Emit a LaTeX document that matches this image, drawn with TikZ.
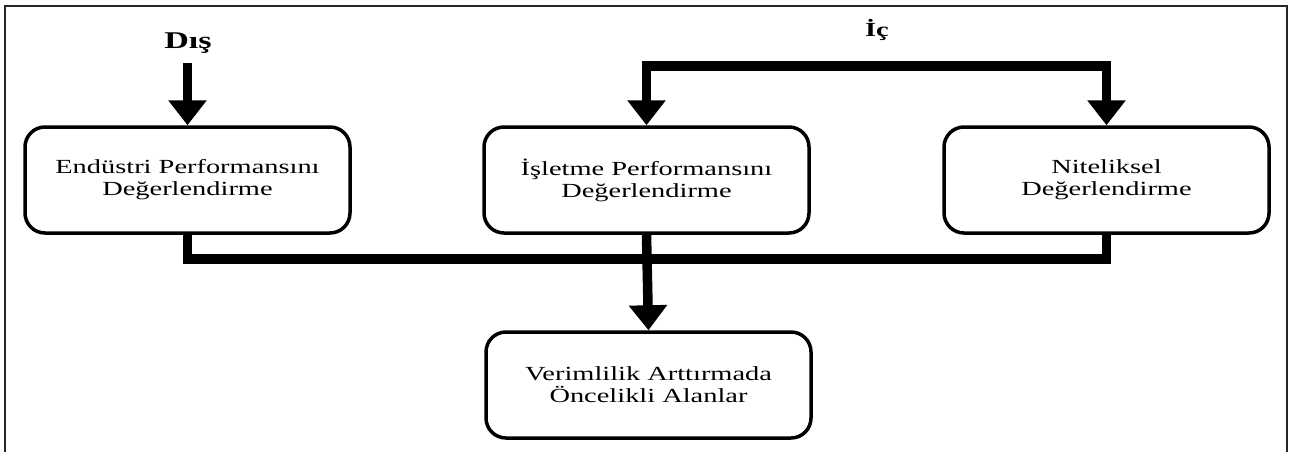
\documentclass[tikz,border=0pt]{standalone}
\usepackage{fontspec}
\setmainfont{Liberation Serif}[FakeStretch=1.42]
\usetikzlibrary{arrows.meta}
\tikzset{
  box/.style={draw, line width=3.5pt, rounded corners=20pt, minimum width=325pt, minimum height=106pt, align=center, font=\fontsize{20}{22}\selectfont, inner sep=0pt, execute at begin node={\rule{0pt}{22pt}}},
  conn/.style={line width=9.5pt, line join=miter},
  tipped/.style={conn, -{Triangle[length=25pt,width=37pt]}},
  dtipped/.style={conn, {Triangle[length=25pt,width=37pt]}-{Triangle[length=25pt,width=37pt]}},
  lbl/.style={font=\fontsize{24}{26}\selectfont\bfseries, inner sep=0pt},
  lblsmall/.style={font=\fontsize{20}{22}\selectfont\bfseries, inner sep=0pt}
}
\begin{document}
\begin{tikzpicture}[x=1pt,y=1pt]
\useasboundingbox (0,0) rectangle (1289,-452);
\draw[line width=2pt, black!85] (5,-452) -- (5,-6) -- (1287,-6) -- (1287,-452);

\node[box] (b1) at (187.5,-180) {Endüstri Performansını\\Değerlendirme};
\node[box] (b2) at (646.5,-180) {İşletme Performansını\\Değerlendirme};
\node[box] (b3) at (1106.5,-180) {Niteliksel\\Değerlendirme};
\node[box] (b4) at (648.5,-385) {Verimlilik Arttırmada\\Öncelikli Alanlar};

\node[lbl] (dis) at (188,-43) {Dış};
\node[lblsmall] (ic) at (877,-30) {İç};

\coordinate (dtop) at (187.5,-63);
\coordinate (tl) at (646.5,-66);
\coordinate (tr) at (1106.5,-66);
\coordinate (bus) at (0,-259);

\draw[tipped] (dtop) -- (b1.north);
\draw[dtipped] (b2.north) -- (tl) -- (tr) -- (b3.north);
\draw[conn] (b1.south) -- (b1.south |- bus) -- (b3.south |- bus) -- (b3.south);
\draw[tipped] (b2.south) -- (b4.north);
\end{tikzpicture}
\end{document}
